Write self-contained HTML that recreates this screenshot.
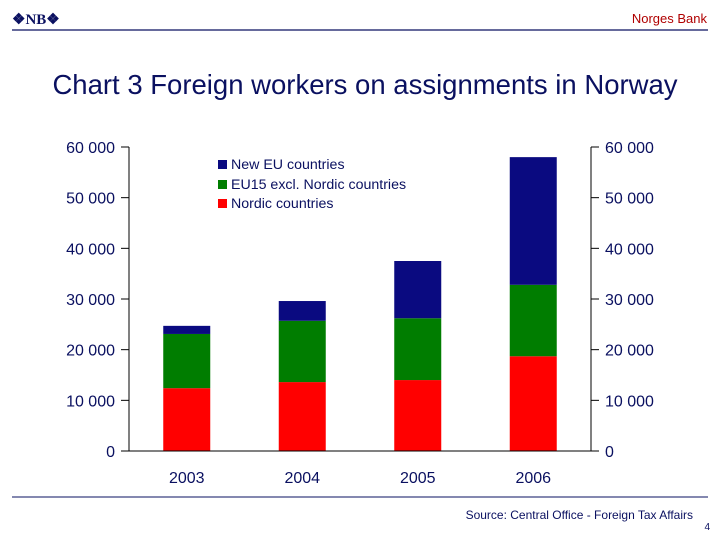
<!DOCTYPE html>
<html><head><meta charset="utf-8"><style>
body{margin:0;background:#fff;width:720px;height:540px;overflow:hidden;font-family:"Liberation Sans",Arial,sans-serif;}
</style></head><body>
<svg width="720" height="540" xmlns="http://www.w3.org/2000/svg" id="svg">
<text x="12" y="24" font-size="15" font-weight="bold" fill="#0a1060" font-family="Liberation Serif">❖NB❖</text>
<text x="707" y="23" font-size="13" fill="#b00000" text-anchor="end">Norges Bank</text>
<line x1="12" y1="30" x2="708" y2="30" stroke="#0a1060" stroke-width="1.2"/>
<text x="365" y="94" font-size="27.5" fill="#0a1060" text-anchor="middle">Chart 3 Foreign workers on assignments in Norway</text>
<g id="plot"></g>
<g>
<rect x="218" y="160" width="9" height="9" fill="#0a0a80"/>
<text x="231" y="169" font-size="14.2" fill="#0a1060">New EU countries</text>
<rect x="218" y="180" width="9" height="9" fill="#007d00"/>
<text x="231" y="189" font-size="14.2" fill="#0a1060">EU15 excl. Nordic countries</text>
<rect x="218" y="199" width="9" height="9" fill="#ff0000"/>
<text x="231" y="208" font-size="14.2" fill="#0a1060">Nordic countries</text>
</g>
<line x1="12" y1="497" x2="708" y2="497" stroke="#0a1060" stroke-width="1"/>
<text x="693" y="519" font-size="12" fill="#0a1060" text-anchor="end">Source: Central Office - Foreign Tax Affairs</text>
<text x="710" y="530" font-size="10" fill="#0a1060" text-anchor="end">4</text>
</svg>
<script>
const categories=["2003","2004","2005","2006"];
const nordic=[12400,13600,14000,18700];
const eu15=[10700,12100,12200,14100];
const newEu=[1600,3900,11300,25200];
const ticks=[0,10000,20000,30000,40000,50000,60000];
const tickLabels=["0","10 000","20 000","30 000","40 000","50 000","60 000"];
const NS="http://www.w3.org/2000/svg";
const g=document.getElementById('plot');
const X0=129,X1=591,Y0=451,Y1=147,MAX=60000;
const y=v=>Y0-(v/MAX)*(Y0-Y1);
const band=(X1-X0)/categories.length;
const xc=i=>X0+band*(i+0.5);
function mk(t,a){const e=document.createElementNS(NS,t);for(const k in a)e.setAttribute(k,a[k]);g.appendChild(e);return e;}
ticks.forEach((t,i)=>{
 let l=mk('line',{x1:X0-8,x2:X0,y1:y(t),y2:y(t),stroke:'#000'});
 
 
 let r=mk('line',{x1:X1,x2:X1+8,y1:y(t),y2:y(t),stroke:'#000'});
 
 
 let a=mk('text',{x:115,y:y(t)+6,'font-size':16,fill:'#0a1060','text-anchor':'end'});a.textContent=tickLabels[i];
 
 
 let b=mk('text',{x:605,y:y(t)+6,'font-size':16,fill:'#0a1060'});b.textContent=tickLabels[i];
 
 
});
const series=[[nordic,'#ff0000','nordic'],[eu15,'#007d00','eu15'],[newEu,'#0a0a80','new-eu']];
categories.forEach((c,i)=>{
 let base=0;
 series.forEach(([arr,col,nm])=>{
  const r=mk('rect',{x:xc(i)-23.5,width:47,y:y(base+arr[i]),height:y(base)-y(base+arr[i]),fill:col});
  
  
  base+=arr[i];
 });
 const t=mk('text',{x:xc(i),y:483,'font-size':16,fill:'#0a1060','text-anchor':'middle'});t.textContent=c;
 
 
});
[[X0,Y1,X0,Y0],[X1,Y1,X1,Y0],[X0,Y0,X1,Y0]].forEach(p=>{
 const l=mk('line',{x1:p[0],y1:p[1],x2:p[2],y2:p[3],stroke:'#000'});
 
 
});
</script>
</body></html>
